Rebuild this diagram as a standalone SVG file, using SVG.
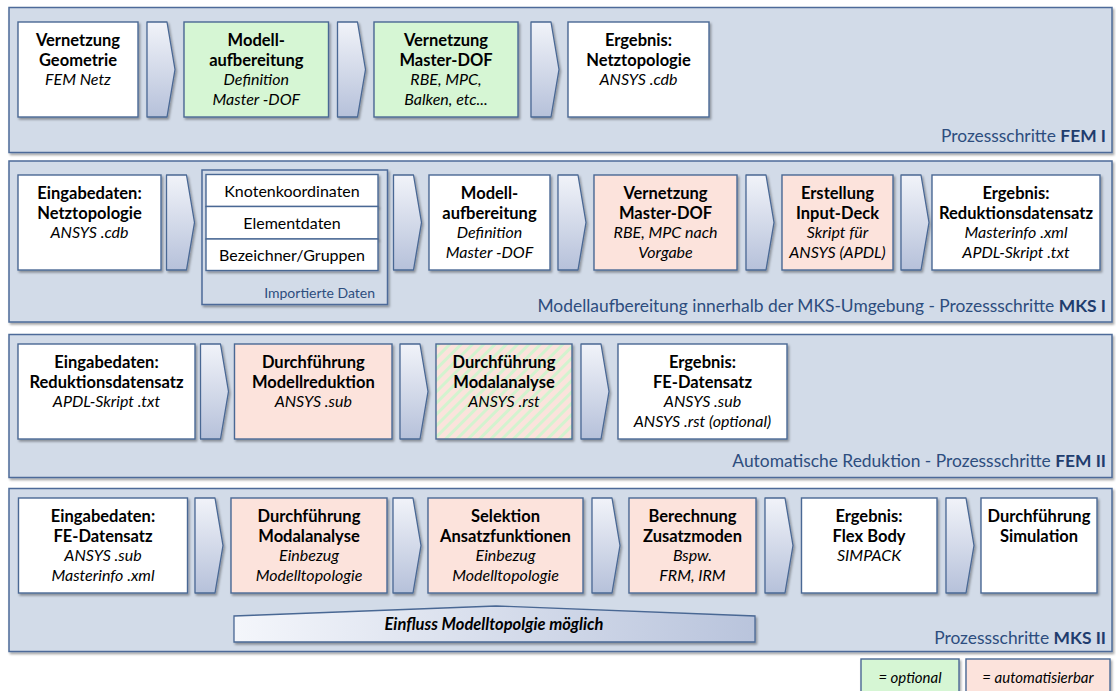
<svg xmlns="http://www.w3.org/2000/svg" width="1116" height="691" viewBox="0 0 1116 691">
  <defs>
    <filter id="shadow" x="-10%" y="-10%" width="130%" height="140%">
      <feDropShadow dx="1.5" dy="2" stdDeviation="1.2" flood-color="#000" flood-opacity="0.35"/>
    </filter>
    <linearGradient id="chevFill" x1="0" y1="0" x2="0" y2="1">
      <stop offset="0" stop-color="#f1f3f9"/>
      <stop offset="1" stop-color="#b6c1da"/>
    </linearGradient>
    <linearGradient id="wedgeFill" x1="0" y1="0" x2="1" y2="0">
      <stop offset="0" stop-color="#f4f6fb"/>
      <stop offset="1" stop-color="#b9c4dc"/>
    </linearGradient>
    <pattern id="hatch" width="8" height="8" patternUnits="userSpaceOnUse" patternTransform="rotate(45)">
      <rect width="8" height="8" fill="#fbe3dc"/>
      <rect width="3" height="8" fill="#d3f3cf"/>
    </pattern>
    <path id="chev" d="M0 0 H20 L28 47.5 L20 95 H0 Z"/>
  </defs>
  <style>
    .band { fill: #d2dbe8; stroke: #4d6b99; stroke-width: 1.5; filter: url(#shadow); }
    .box { stroke: #4a6894; stroke-width: 1.4; filter: url(#shadow); }
    .white { fill: #ffffff; }
    .green { fill: #d6f6d4; }
    .pink { fill: #fce3dc; }
    .hatched { fill: url(#hatch); }
    .chev { fill: url(#chevFill); stroke: #4a6894; stroke-width: 1.3; stroke-linejoin: round; filter: url(#shadow); }
    text { font-family: Lato, "Open Sans", "Liberation Sans", sans-serif; fill: #000; }
    .b { font-size: 16.5px; font-weight: bold; text-anchor: middle; }
    .i { font-size: 16px; font-style: italic; text-anchor: middle; }
    .r { font-size: 16px; text-anchor: middle; }
    .lbl { font-size: 17.4px; fill: #2d4d7e; text-anchor: end; }
    .lbl tspan { font-weight: bold; fill: #1f3d6e; }
    .sub { font-size: 14px; fill: #2d4d7e; text-anchor: end; }
    .leg { font-size: 15px; font-style: italic; text-anchor: middle; }
  </style>

  <!-- background bands -->
  <g id="bands">
    <rect id="band-fem1" class="band" x="9" y="7.5" width="1103" height="145"/>
    <rect id="band-mks1" class="band" x="9" y="161" width="1103" height="161"/>
    <rect id="band-fem2" class="band" x="9" y="334.5" width="1103" height="143"/>
    <rect id="band-mks2" class="band" x="9" y="488.5" width="1103" height="163"/>
  </g>

  <!-- band captions -->
  <g id="captions">
    <text class="lbl" x="1106" y="142">Prozessschritte <tspan>FEM I</tspan></text>
    <text class="lbl" x="1106" y="312">Modellaufbereitung innerhalb der MKS-Umgebung - Prozessschritte <tspan>MKS I</tspan></text>
    <text class="lbl" x="1106" y="467">Automatische Reduktion - Prozessschritte <tspan>FEM II</tspan></text>
    <text class="lbl" x="1106" y="644">Prozessschritte <tspan>MKS II</tspan></text>
  </g>

  <!-- step arrows -->
  <g id="connectors">
    <use href="#chev" class="chev" x="147" y="22"/>
    <use href="#chev" class="chev" x="337.5" y="22"/>
    <use href="#chev" class="chev" x="531" y="22"/>

    <use href="#chev" class="chev" x="166.5" y="175"/>
    <use href="#chev" class="chev" x="393.5" y="175"/>
    <use href="#chev" class="chev" x="558" y="175"/>
    <use href="#chev" class="chev" x="746" y="175"/>
    <use href="#chev" class="chev" x="901" y="175"/>

    <use href="#chev" class="chev" x="200.5" y="344"/>
    <use href="#chev" class="chev" x="400" y="344"/>
    <use href="#chev" class="chev" x="581" y="344"/>

    <use href="#chev" class="chev" x="195" y="498"/>
    <use href="#chev" class="chev" x="393" y="498"/>
    <use href="#chev" class="chev" x="592" y="498"/>
    <use href="#chev" class="chev" x="765" y="498"/>
    <use href="#chev" class="chev" x="946" y="498"/>
  </g>

  <!-- FEM I -->
  <g id="fem1-vernetzung">
    <rect class="box white" x="18" y="22" width="120" height="95"/>
    <text class="b" x="78" y="46">Vernetzung</text>
    <text class="b" x="78" y="66">Geometrie</text>
    <text class="i" x="78" y="85">FEM Netz</text>
  </g>
  <g id="fem1-modellaufbereitung">
    <rect class="box green" x="184" y="22" width="144.5" height="95"/>
    <text class="b" x="256.3" y="46">Modell-</text>
    <text class="b" x="256.3" y="66">aufbereitung</text>
    <text class="i" x="256.3" y="85">Definition</text>
    <text class="i" x="256.3" y="105">Master -DOF</text>
  </g>
  <g id="fem1-masterdof">
    <rect class="box green" x="374" y="22" width="144" height="95"/>
    <text class="b" x="446" y="46">Vernetzung</text>
    <text class="b" x="446" y="66">Master-DOF</text>
    <text class="i" x="446" y="85">RBE, MPC,</text>
    <text class="i" x="446" y="105">Balken, etc...</text>
  </g>
  <g id="fem1-ergebnis">
    <rect class="box white" x="568" y="22" width="141" height="95"/>
    <text class="b" x="638.5" y="46">Ergebnis:</text>
    <text class="b" x="638.5" y="66">Netztopologie</text>
    <text class="i" x="638.5" y="85">ANSYS .cdb</text>
  </g>

  <!-- MKS I -->
  <g id="mks1-eingabe">
    <rect class="box white" x="18" y="175" width="143" height="95"/>
    <text class="b" x="89.5" y="199">Eingabedaten:</text>
    <text class="b" x="89.5" y="219">Netztopologie</text>
    <text class="i" x="89.5" y="238">ANSYS .cdb</text>
  </g>
  <g id="mks1-importierte-daten">
    <rect class="band" x="202" y="170" width="185.5" height="134.5"/>
    <rect class="box white" x="206" y="174.5" width="172" height="32"/>
    <rect class="box white" x="206" y="206.5" width="172" height="32.5"/>
    <rect class="box white" x="206" y="239" width="172" height="31.5"/>
    <text class="r" x="292" y="197">Knotenkoordinaten</text>
    <text class="r" x="292" y="229">Elementdaten</text>
    <text class="r" x="292" y="261">Bezeichner/Gruppen</text>
    <text class="sub" x="375" y="298">Importierte Daten</text>
  </g>
  <g id="mks1-modellaufbereitung">
    <rect class="box white" x="429" y="175" width="121" height="95"/>
    <text class="b" x="489.5" y="199">Modell-</text>
    <text class="b" x="489.5" y="219">aufbereitung</text>
    <text class="i" x="489.5" y="238">Definition</text>
    <text class="i" x="489.5" y="258">Master -DOF</text>
  </g>
  <g id="mks1-masterdof">
    <rect class="box pink" x="594" y="175" width="143" height="95"/>
    <text class="b" x="665.5" y="199">Vernetzung</text>
    <text class="b" x="665.5" y="219">Master-DOF</text>
    <text class="i" x="665.5" y="238">RBE, MPC nach</text>
    <text class="i" x="665.5" y="258">Vorgabe</text>
  </g>
  <g id="mks1-inputdeck">
    <rect class="box pink" x="782" y="175" width="111" height="95"/>
    <text class="b" x="837.5" y="199">Erstellung</text>
    <text class="b" x="837.5" y="219">Input-Deck</text>
    <text class="i" x="837.5" y="238">Skript für</text>
    <text class="i" x="837.5" y="258">ANSYS (APDL)</text>
  </g>
  <g id="mks1-ergebnis">
    <rect class="box white" x="932" y="175" width="168" height="95"/>
    <text class="b" x="1016" y="199">Ergebnis:</text>
    <text class="b" x="1016" y="219">Reduktionsdatensatz</text>
    <text class="i" x="1016" y="238">Masterinfo .xml</text>
    <text class="i" x="1016" y="258">APDL-Skript .txt</text>
  </g>

  <!-- FEM II -->
  <g id="fem2-eingabe">
    <rect class="box white" x="18" y="344" width="177" height="95"/>
    <text class="b" x="106.5" y="368">Eingabedaten:</text>
    <text class="b" x="106.5" y="388">Reduktionsdatensatz</text>
    <text class="i" x="106.5" y="407">APDL-Skript .txt</text>
  </g>
  <g id="fem2-modellreduktion">
    <rect class="box pink" x="234.5" y="344" width="157.5" height="95"/>
    <text class="b" x="313.3" y="368">Durchführung</text>
    <text class="b" x="313.3" y="388">Modellreduktion</text>
    <text class="i" x="313.3" y="407">ANSYS .sub</text>
  </g>
  <g id="fem2-modalanalyse">
    <rect class="box hatched" x="436" y="344" width="136" height="95"/>
    <text class="b" x="504" y="368">Durchführung</text>
    <text class="b" x="504" y="388">Modalanalyse</text>
    <text class="i" x="504" y="407">ANSYS .rst</text>
  </g>
  <g id="fem2-ergebnis">
    <rect class="box white" x="618" y="344" width="169" height="95"/>
    <text class="b" x="702.5" y="368">Ergebnis:</text>
    <text class="b" x="702.5" y="388">FE-Datensatz</text>
    <text class="i" x="702.5" y="407">ANSYS .sub</text>
    <text class="i" x="702.5" y="427">ANSYS .rst (optional)</text>
  </g>

  <!-- MKS II -->
  <g id="mks2-eingabe">
    <rect class="box white" x="18.5" y="498" width="169" height="95"/>
    <text class="b" x="103" y="522">Eingabedaten:</text>
    <text class="b" x="103" y="542">FE-Datensatz</text>
    <text class="i" x="103" y="561">ANSYS .sub</text>
    <text class="i" x="103" y="581">Masterinfo .xml</text>
  </g>
  <g id="mks2-modalanalyse">
    <rect class="box pink" x="231" y="498" width="156" height="95"/>
    <text class="b" x="309" y="522">Durchführung</text>
    <text class="b" x="309" y="542">Modalanalyse</text>
    <text class="i" x="309" y="561">Einbezug</text>
    <text class="i" x="309" y="581">Modelltopologie</text>
  </g>
  <g id="mks2-selektion">
    <rect class="box pink" x="428" y="498" width="155" height="95"/>
    <text class="b" x="505.5" y="522">Selektion</text>
    <text class="b" x="505.5" y="542">Ansatzfunktionen</text>
    <text class="i" x="505.5" y="561">Einbezug</text>
    <text class="i" x="505.5" y="581">Modelltopologie</text>
  </g>
  <g id="mks2-zusatzmoden">
    <rect class="box pink" x="629" y="498" width="127" height="95"/>
    <text class="b" x="692.5" y="522">Berechnung</text>
    <text class="b" x="692.5" y="542">Zusatzmoden</text>
    <text class="i" x="692.5" y="561">Bspw.</text>
    <text class="i" x="692.5" y="581">FRM, IRM</text>
  </g>
  <g id="mks2-ergebnis">
    <rect class="box white" x="801.5" y="498" width="135.5" height="95"/>
    <text class="b" x="869" y="522">Ergebnis:</text>
    <text class="b" x="869" y="542">Flex Body</text>
    <text class="i" x="869" y="561">SIMPACK</text>
  </g>
  <g id="mks2-simulation">
    <rect class="box white" x="981" y="498" width="116" height="95"/>
    <text class="b" x="1039" y="522">Durchführung</text>
    <text class="b" x="1039" y="542">Simulation</text>
  </g>
  <g id="mks2-einfluss">
    <path d="M234 616 L496 606 L755 616 V642 H234 Z" fill="url(#wedgeFill)" stroke="#4a6894" stroke-width="1.3" filter="url(#shadow)"/>
    <text class="b" x="494" y="630" style="font-style:italic">Einfluss Modelltopolgie möglich</text>
  </g>

  <!-- legend -->
  <g id="legend">
    <rect class="box green" x="861" y="659" width="98" height="38"/>
    <text class="leg" x="910" y="683">= optional</text>
    <rect class="box pink" x="966" y="659" width="144" height="38"/>
    <text class="leg" x="1038" y="683">= automatisierbar</text>
  </g>
</svg>
